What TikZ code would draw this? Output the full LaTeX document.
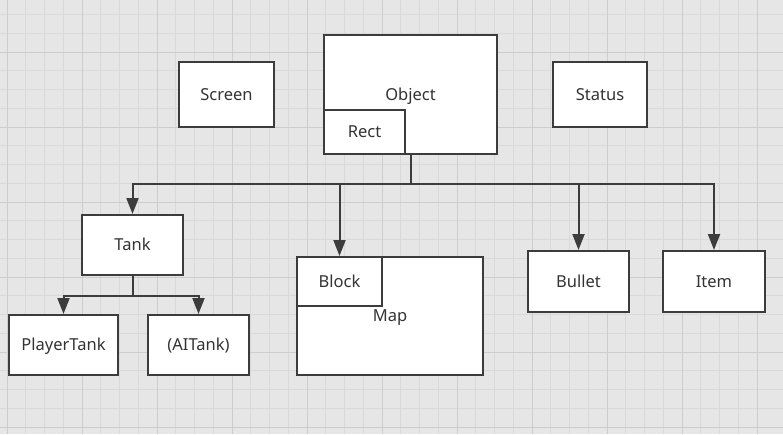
\documentclass[tikz,border=0pt]{standalone}
\usepackage{fontspec}
\setmainfont{Noto Sans}
\usetikzlibrary{arrows.meta,positioning}
\definecolor{bgcol}{HTML}{E6E6E6}
\definecolor{minorcol}{HTML}{D9D9D9}
\definecolor{majorcol}{HTML}{CDCDCD}
\definecolor{linecol}{HTML}{3C3C3C}
\definecolor{textcol}{HTML}{333333}
\tikzset{
    box/.style={draw=linecol, line width=2pt, fill=white, text=textcol,
        font=\fontsize{16.5}{18}\selectfont, inner sep=0pt,
        text height=11.8pt, text depth=0pt},
    link/.style={draw=linecol, line width=2pt, -{Triangle[width=12pt 0,length=16pt 0]}},
}
\begin{document}
\begin{tikzpicture}[x=1pt,y=-1pt]
            \fill[bgcol] (0,0) rectangle (783,434);
            \useasboundingbox (0,0) rectangle (783,434);
            % grid
            \foreach \i in {0,...,41} {
                \draw[minorcol, line width=1pt] ({7+18.75*\i-18.75},0) -- ({7+18.75*\i-18.75},434);
            }
            \foreach \j in {0,...,24} {
                \draw[minorcol, line width=1pt] (0,{52+18.75*\j-75}) -- (783,{52+18.75*\j-75});
            }
            \foreach \i in {0,...,10} {
                \draw[majorcol, line width=1pt] ({7+75*\i},0) -- ({7+75*\i},434);
            }
            \foreach \j in {0,...,5} {
                \draw[majorcol, line width=1pt] (0,{52+75*\j}) -- (783,{52+75*\j});
            }

            % top row
            \node[box, minimum width=95pt, minimum height=65pt] (Screen) at (226.5,94.5) {Screen};
            \node[box, minimum width=173pt, minimum height=119pt] (Object) at (410.5,94.5) {Object};
            \node[box, minimum width=81pt, minimum height=44pt, anchor=south west] (Rect) at (Object.south west) {Rect};
            \node[box, minimum width=94pt, minimum height=65pt] (Status) at (600,94.5) {Status};

            % second row
            \node[box, minimum width=101pt, minimum height=60pt] (Tank) at (132.5,245) {Tank};
            \node[box, minimum width=186pt, minimum height=118pt] (Map) at (390,316) {Map};
            \node[box, minimum width=85pt, minimum height=49pt, anchor=north west] (Block) at (Map.north west) {Block};
            \node[box, minimum width=101pt, minimum height=61pt] (Bullet) at (578.5,281.5) {Bullet};
            \node[box, minimum width=102pt, minimum height=61pt] (Item) at (714,281.5) {Item};

            % third row
            \node[box, minimum width=109pt, minimum height=60pt] (PlayerTank) at (63.5,345) {PlayerTank};
            \node[box, minimum width=101pt, minimum height=60pt] (AITank) at (198.5,345) {(AITank)};

            % connectors
            \coordinate (bus) at (410.5,184);
            \draw[link] (Object.south) -- (bus) -| (Tank.north);
            \draw[link] (bus) -| (Block.north);
            \draw[link] (bus) -| (Bullet.north);
            \draw[link] (bus) -| (Item.north);

            \coordinate (tankbus) at (132.5,296);
            \draw[link] (Tank.south) -- (tankbus) -| (PlayerTank.north);
            \draw[link] (tankbus) -| (AITank.north);
\end{tikzpicture}
\end{document}
